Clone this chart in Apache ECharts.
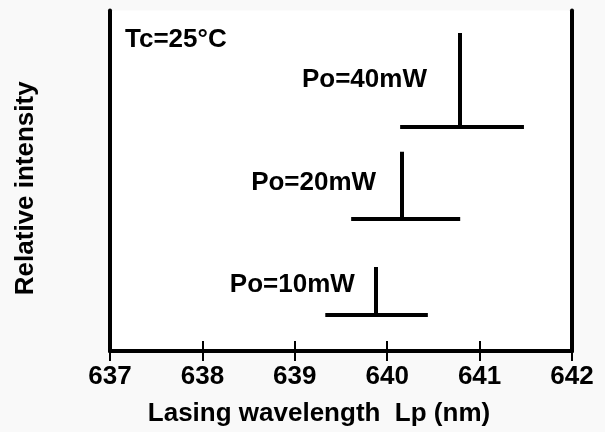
<!DOCTYPE html>
<html>
<head>
<meta charset="utf-8">
<script src="https://cdn.jsdelivr.net/npm/echarts@6/dist/echarts.min.js"></script>
<style>
  html, body { margin: 0; padding: 0; background: #f9f9f9; }
  #chart01 { width: 605px; height: 432px; }
</style>
</head>
<body>
<div id="chart01"></div>
<script>
// spectra data (wavelength in nm, intensity in relative units 0..100)
var powerLabels = ["Po=10mW", "Po=20mW", "Po=40mW"];
var peakWl = [639.88, 640.16, 640.78];
var peakTop = [24.7, 58.5, 93.4];
var baseLevel = [10.5, 38.7, 65.8];
var baseLeft = [639.33, 639.61, 640.14];
var baseRight = [640.44, 640.79, 641.48];
var labelWl = [639.65, 639.88, 640.43];
var labelLevel = [19.3, 49.3, 79.6];
var xTicks = [637, 638, 639, 640, 641, 642];

var font = "'Liberation Sans', Arial, sans-serif";
var txt = { fontFamily: font, fontSize: 26, fontWeight: "bold", color: "#000" };

var segs = [];
for (var i = 0; i < peakWl.length; i++) {
    segs.push({ coords: [[baseLeft[i], baseLevel[i]], [baseRight[i], baseLevel[i]]] });
    segs.push({ coords: [[peakWl[i], baseLevel[i]], [peakWl[i], peakTop[i]]] });
}
var labelData = [];
for (var j = 0; j < powerLabels.length; j++) {
    labelData.push({ value: [labelWl[j], labelLevel[j]], name: powerLabels[j] });
}

var myChart01 = echarts.init(document.getElementById('chart01'));
var option = {
    backgroundColor: "#f9f9f9",
    animation: false,
    title: {
        text: "Tc=25°C",
        left: 120,
        top: 22,
        textStyle: txt
    },
    grid: {
        left: 110, right: 33, top: 10.5, bottom: 81,
        show: true, backgroundColor: "#fff", borderWidth: 0
    },
    xAxis: [
        {
            type: "value",
            min: xTicks[0],
            max: xTicks[xTicks.length - 1],
            interval: 1,
            name: "Lasing wavelength  Lp (nm)",
            nameLocation: "middle",
            nameGap: 50,
            nameTextStyle: Object.assign({ padding: [0, 44, 0, 0] }, txt),
            axisLine: { lineStyle: { color: "#000", width: 4 } },
            axisTick: { inside: true, length: 10, lineStyle: { color: "#000", width: 2 } },
            axisLabel: Object.assign({ margin: 13 }, txt),
            splitLine: { show: false }
        },
        {
            type: "value",
            position: "top",
            min: xTicks[0],
            max: xTicks[xTicks.length - 1],
            interval: 1,
            axisLine: { lineStyle: { color: "#000", width: 4 } },
            axisTick: { inside: true, length: 10, lineStyle: { color: "#000", width: 2 } },
            axisLabel: { show: false },
            splitLine: { show: false }
        }
    ],
    yAxis: [
        {
            type: "value",
            min: 0,
            max: 100,
            name: "Relative intensity",
            nameLocation: "middle",
            nameGap: 71,
            nameTextStyle: Object.assign({ padding: [0, 15, 0, 0] }, txt),
            axisLine: { show: true, lineStyle: { color: "#000", width: 4 } },
            axisTick: { show: false },
            axisLabel: { show: false },
            splitLine: { show: false }
        },
        {
            type: "value",
            position: "right",
            min: 0,
            max: 100,
            axisLine: { show: true, lineStyle: { color: "#000", width: 4 } },
            axisTick: { show: false },
            axisLabel: { show: false },
            splitLine: { show: false }
        }
    ],
    series: [
        {
            type: "lines",
            coordinateSystem: "cartesian2d",
            xAxisIndex: 0,
            yAxisIndex: 0,
            lineStyle: { color: "#000", width: 4, opacity: 1 },
            data: segs
        },
        {
            type: "scatter",
            xAxisIndex: 0,
            yAxisIndex: 0,
            symbolSize: 0,
            itemStyle: { color: "#000", opacity: 1 },
            label: Object.assign({
                show: true,
                position: "left",
                distance: 0,
                textBorderWidth: 0,
                formatter: function (p) { return p.name; }
            }, txt),
            data: labelData
        }
    ]
};
myChart01.setOption(option);
</script>
</body>
</html>
